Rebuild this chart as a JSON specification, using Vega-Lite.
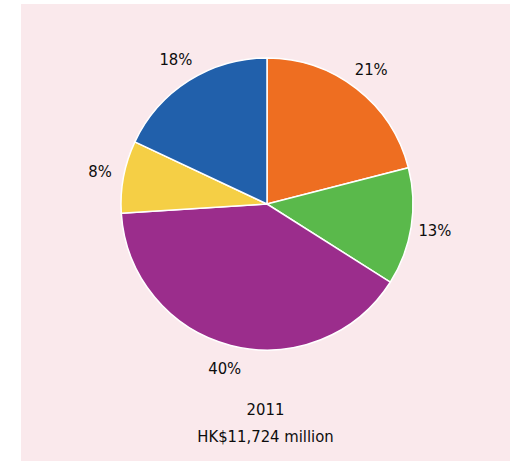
{
  "$schema": "https://vega.github.io/schema/vega-lite/v6.json",
  "autosize": {"type": "fit", "contains": "padding"},
  "width": 510,
  "height": 462,
  "padding": {"left": 21, "top": 4, "right": 0, "bottom": 1},
  "background": "#ffffff",
  "view": {"fill": "#fae9ec", "stroke": null},
  "title": {
    "text": ["2011", "HK$11,724 million"],
    "orient": "bottom",
    "anchor": "middle",
    "offset": -59,
    "font": "DejaVu Sans Condensed, Roboto, sans-serif",
    "fontSize": 16.5,
    "fontWeight": "normal",
    "lineHeight": 27,
    "color": "#0d0d0d"
  },
  "data": {
    "values": [
      {"segment": "A", "share": 21, "label": "21%", "rank": 1},
      {"segment": "B", "share": 13, "label": "13%", "rank": 2},
      {"segment": "C", "share": 40, "label": "40%", "rank": 3},
      {"segment": "D", "share": 8, "label": "8%", "rank": 4},
      {"segment": "E", "share": 18, "label": "18%", "rank": 5}
    ]
  },
  "encoding": {
    "theta": {"field": "share", "type": "quantitative", "stack": true},
    "order": {"field": "rank", "type": "quantitative"},
    "color": {
      "field": "segment",
      "type": "nominal",
      "scale": {"domain": ["A", "B", "C", "D", "E"], "range": ["#ee6e21", "#5ab94b", "#9b2d8c", "#f5cf45", "#2160ab"]},
      "legend": null
    }
  },
  "layer": [
    {
      "mark": {"type": "arc", "outerRadius": 146, "stroke": "#ffffff", "strokeWidth": 1.5,
               "x": {"expr": "width/2 + 1.5"}, "y": {"expr": "height/2 - 28.5"}}
    },
    {
      "mark": {"type": "text", "radius": 170, "font": "DejaVu Sans Condensed, Roboto, sans-serif", "fontSize": 16.5,
               "x": {"expr": "width/2 + 1.5"}, "y": {"expr": "height/2 - 28.5"}},
      "encoding": {"text": {"field": "label"}, "color": {"value": "#0d0d0d"}}
    }
  ]
}
